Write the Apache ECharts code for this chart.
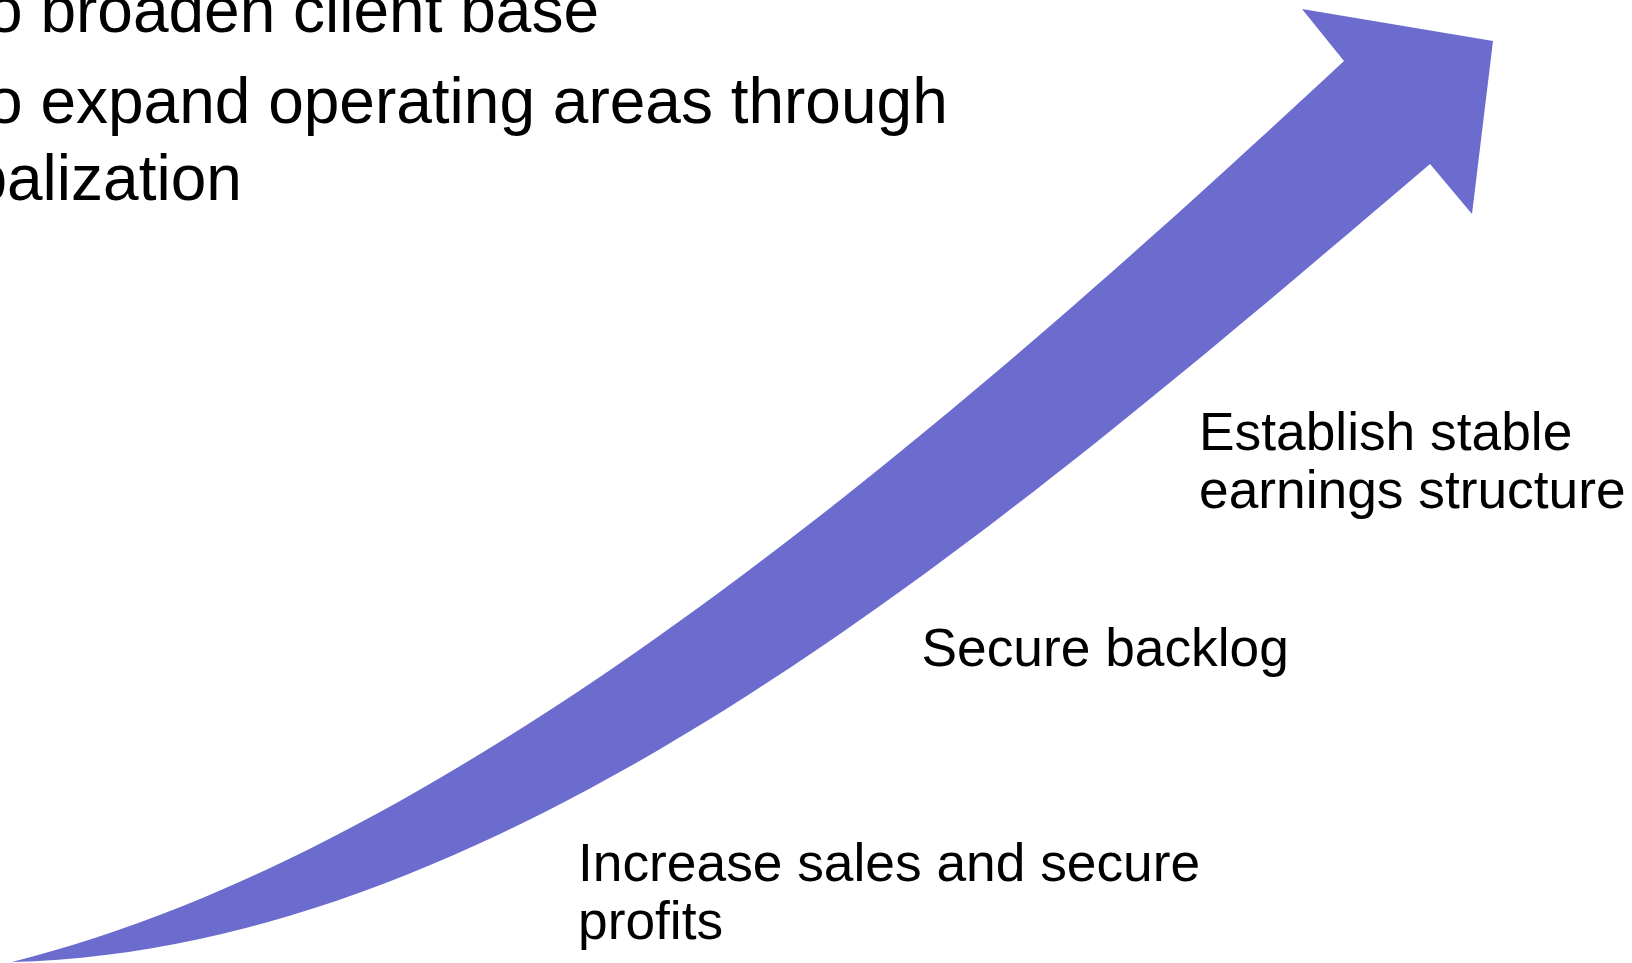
<!DOCTYPE html>
<html>
<head>
<meta charset="utf-8">
<style>
  html, body { margin: 0; padding: 0; background: #ffffff; }
  #chart { width: 1632px; height: 963px; }
</style>
<script src="https://cdn.jsdelivr.net/npm/echarts@6/dist/echarts.min.js"></script>
</head>
<body>
<div id="chart"></div>
<script>
// ---- Data (diagram geometry in a 1632 x 963 reference frame) ----
// Upper edge of the arrow shaft: cubic Bezier [start, control1, control2, end]
const arrowUpperEdge = [[12, 962], [462, 850], [944, 433], [1344, 61]];
// Lower edge of the arrow shaft: cubic Bezier [start, control1, control2, end]
const arrowLowerEdge = [[12, 962], [512, 950], [1000, 530], [1430, 164]];
// Arrow head: [upper barb, tip, lower barb]
const arrowHead = [[1302, 9], [1493, 41], [1472, 214]];

// Text labels
const headerLines = [
  'To broaden client base',
  'To expand operating areas through',
  'globalization'
];
const stepLabels = [
  'Increase sales and secure\nprofits',
  'Secure backlog',
  'Establish stable\nearnings structure'
];

const arrowColor = '#6B6CCD';
const fontFamily = '"Liberation Sans", Arial, Helvetica, sans-serif';

const chart = echarts.init(document.getElementById('chart'), null, { renderer: 'canvas' });

function renderArrow(params, api) {
  const c = p => api.coord(p);
  const u = arrowUpperEdge.map(c);
  const l = arrowLowerEdge.map(c);
  const h = arrowHead.map(c);
  const f = p => p[0].toFixed(2) + ' ' + p[1].toFixed(2);
  const d =
    'M ' + f(u[0]) +
    ' C ' + f(u[1]) + ' ' + f(u[2]) + ' ' + f(u[3]) +
    ' L ' + f(h[0]) +
    ' L ' + f(h[1]) +
    ' L ' + f(h[2]) +
    ' L ' + f(l[3]) +
    ' C ' + f(l[2]) + ' ' + f(l[1]) + ' ' + f(l[0]) +
    ' Z';
  return {
    type: 'path',
    shape: { pathData: d },
    style: { fill: arrowColor, stroke: null }
  };
}

const headFont = '64px ' + fontFamily;
const labelFont = '53.3px ' + fontFamily;

const option = {
  animation: false,
  backgroundColor: '#ffffff',
  grid: { left: 0, right: 0, top: 0, bottom: 0, containLabel: false },
  xAxis: { type: 'value', min: 0, max: 1632, show: false },
  yAxis: { type: 'value', min: 0, max: 963, inverse: true, show: false },
  series: [{
    type: 'custom',
    coordinateSystem: 'cartesian2d',
    renderItem: renderArrow,
    data: [[0, 0]],
    silent: true,
    clip: false
  }],
  graphic: [
    { type: 'text', x: -45, y: 14.5,
      style: { text: headerLines[0], fill: '#000', font: headFont, verticalAlign: 'middle', align: 'left' } },
    { type: 'text', x: -45, y: 105.5,
      style: { text: headerLines[1], fill: '#000', font: headFont, verticalAlign: 'middle', align: 'left' } },
    { type: 'text', x: -114, y: 182.5,
      style: { text: headerLines[2], fill: '#000', font: headFont, verticalAlign: 'middle', align: 'left' } },
    { type: 'text', x: 578, y: 838,
      style: { text: stepLabels[0], fill: '#000', font: labelFont, lineHeight: 57.4, verticalAlign: 'top', align: 'left' } },
    { type: 'text', x: 921.5, y: 651.5,
      style: { text: stepLabels[1], fill: '#000', font: labelFont, verticalAlign: 'middle', align: 'left' } },
    { type: 'text', x: 1199, y: 406.5,
      style: { text: stepLabels[2], fill: '#000', font: labelFont, lineHeight: 58, verticalAlign: 'top', align: 'left' } }
  ]
};

chart.setOption(option);
</script>
</body>
</html>
